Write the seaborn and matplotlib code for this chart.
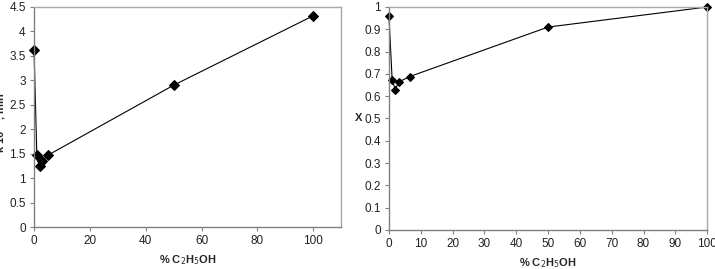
import pandas as pd
import matplotlib.pyplot as plt
import seaborn as sns

# ethanol content, % C2H5OH
pct_k = [0, 1, 2, 3, 5, 50, 100]
k_vals = [3.62, 1.48, 1.24, 1.35, 1.47, 2.90, 4.32]

pct_x = [0, 1, 2, 3, 6.5, 50, 100]
x_vals = [0.958, 0.674, 0.629, 0.663, 0.688, 0.91, 1.0]

sns.set_theme(style='white')
plt.rcParams['font.family'] = ['Liberation Sans', 'DejaVu Sans']

fig = plt.figure(figsize=(7.15, 2.69), dpi=100)
ax1 = fig.add_axes([0.0476, 0.156, 0.4294, 0.818])
ax2 = fig.add_axes([0.544, 0.145, 0.445, 0.829])

df_k = pd.DataFrame({'pct': pct_k, 'k': k_vals})
df_x = pd.DataFrame({'pct': pct_x, 'X': x_vals})

sns.lineplot(data=df_k, x='pct', y='k', ax=ax1, color='black', lw=0.8,
             marker='D', markersize=5.5, markeredgecolor='black',
             estimator=None, sort=False, clip_on=False)
sns.lineplot(data=df_x, x='pct', y='X', ax=ax2, color='black', lw=0.8,
             marker='D', markersize=4, markeredgecolor='black',
             estimator=None, sort=False, clip_on=False)

ax1.set_xlim(0, 110)
ax1.set_ylim(0, 4.5)
ax1.set_xticks([0, 20, 40, 60, 80, 100])
ax1.set_yticks([i * 0.5 for i in range(10)])
ax1.set_yticklabels(['0', '0.5', '1', '1.5', '2', '2.5', '3', '3.5', '4', '4.5'])

ax2.set_xlim(0, 100)
ax2.set_ylim(0, 1)
ax2.set_xticks(range(0, 101, 10))
ax2.set_yticks([i / 10 for i in range(11)])
ax2.set_yticklabels(['0', '0.1', '0.2', '0.3', '0.4', '0.5', '0.6', '0.7', '0.8', '0.9', '1'])

for ax in (ax1, ax2):
    ax.set_xlabel('% C$_2$H$_5$OH', fontsize=8, fontweight='bold', labelpad=4)
    ax.tick_params(axis='both', labelsize=8.5, labelcolor='#222222',
                   length=3, width=0.8, color='#808080', pad=3,
                   direction='out', bottom=True, left=True)
    for s in ('left', 'bottom'):
        ax.spines[s].set_color('#808080')
        ax.spines[s].set_linewidth(1.0)
    for s in ('top', 'right'):
        ax.spines[s].set_color('#a8a8a8')
        ax.spines[s].set_linewidth(1.0)
    ax.grid(False)

ax1.set_ylabel('k 10$^{-2}$, min$^{-1}$', fontsize=8, fontweight='bold')
ax1.yaxis.set_label_coords(-0.08, 0.5)
ax2.set_ylabel('X', fontsize=8, fontweight='bold', rotation=0, va='center')
ax2.yaxis.set_label_coords(-0.097, 0.5)

fig.savefig('out.png', dpi=100)
